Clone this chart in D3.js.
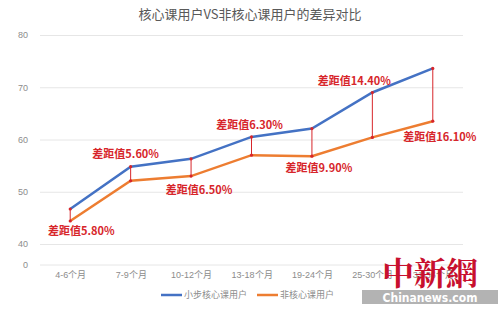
<!DOCTYPE html>
<html lang="zh-CN">
<head>
  <meta charset="UTF-8">
  <title>核心课用户VS非核心课用户的差异对比</title>
  <script src="https://d3js.org/d3.v7.min.js"></script>
  <style>
    html, body { margin: 0; padding: 0; background: #fff; }
    body { font-family: 'Noto Sans CJK SC', 'Noto Sans', sans-serif; }
  </style>
</head>
<body>
  <div id="chart"></div>
  <script>
    var title = "核心课用户VS非核心课用户的差异对比";
    var categories = ["4-6个月", "7-9个月", "10-12个月", "13-18个月", "19-24个月", "25-30个月", "31-36个月"];
    var coreValues = [46.7, 54.8, 56.3, 60.5, 62.1, 69.0, 73.6];
    var nonCoreValues = [44.4, 52.1, 53.0, 57.0, 56.8, 60.4, 63.5];
    var gapLabels = ["差距值5.80%", "差距值5.60%", "差距值6.50%", "差距值6.30%", "差距值9.90%", "差距值14.40%", "差距值16.10%"];
    var yTicks = [0, 40, 50, 60, 70, 80];
    var seriesNames = ["小步核心课用户", "非核心课用户"];

    var width = 500, height = 311;
    var blue = "#4472c4", orange = "#ed7d31", red = "#d7262b";

    var svg = d3.select("#chart").append("svg")
      .attr("width", width)
      .attr("height", height);

    // broken axis: 0 sits just below 40
    var y = d3.scaleLinear().domain([0, 40, 80]).range([264.5, 244, 35]);
    var x = d3.scalePoint().domain(categories).range([40, 463]).padding(0.5);

    svg.append("text")
      .attr("x", 250).attr("y", 19)
      .attr("text-anchor", "middle")
      .attr("font-size", 13)
      .attr("fill", "#595959")
      .text(title);

    var yAxis = svg.append("g")
      .attr("transform", "translate(40,0)")
      .call(d3.axisLeft(y).tickValues(yTicks).tickSize(-423).tickPadding(12));
    yAxis.select(".domain").remove();
    yAxis.selectAll(".tick line").attr("stroke", "#e6e6e6");
    yAxis.selectAll(".tick text").attr("fill", "#8c8c8c").attr("font-size", 9);

    var xAxis = svg.append("g")
      .attr("transform", "translate(0,264.5)")
      .call(d3.axisBottom(x).tickSize(0).tickPadding(7));
    xAxis.select(".domain").remove();
    xAxis.selectAll(".tick text").attr("fill", "#8c8c8c").attr("font-size", 9);

    var line = d3.line()
      .x(function(d, i) { return x(categories[i]); })
      .y(function(d) { return y(d); });

    // gap markers
    var gaps = svg.append("g");
    categories.forEach(function(c, i) {
      var y1 = y(coreValues[i]), y2 = y(nonCoreValues[i]);
      gaps.append("line")
        .attr("x1", x(c)).attr("x2", x(c))
        .attr("y1", y1).attr("y2", y2)
        .attr("stroke", red).attr("stroke-width", 1);
    });

    svg.append("path")
      .datum(nonCoreValues)
      .attr("d", line)
      .attr("fill", "none")
      .attr("stroke", orange)
      .attr("stroke-width", 2.5);

    svg.append("path")
      .datum(coreValues)
      .attr("d", line)
      .attr("fill", "none")
      .attr("stroke", blue)
      .attr("stroke-width", 2.5);

    categories.forEach(function(c, i) {
      [coreValues[i], nonCoreValues[i]].forEach(function(v) {
        gaps.append("circle")
          .attr("cx", x(c)).attr("cy", y(v))
          .attr("r", 1.6).attr("fill", red);
      });
    });
    svg.node().appendChild(gaps.node());

    // label placement: above blue (-1) or below orange (+1), with small nudges
    var labelSide = [1, -1, 1, -1, 1, -1, 1];
    var labelDx = [11, -5, 8, -2, 7, -18, 7];
    var labelDy = [14, -9, 18, -8, 16, -7, 20];
    svg.append("g").selectAll("text")
      .data(gapLabels)
      .join("text")
      .attr("x", function(d, i) { return x(categories[i]) + labelDx[i]; })
      .attr("y", function(d, i) {
        var base = labelSide[i] < 0 ? y(coreValues[i]) : y(nonCoreValues[i]);
        return base + labelDy[i];
      })
      .attr("text-anchor", "middle")
      .attr("font-size", 11)
      .attr("font-weight", "bold")
      .attr("fill", red)
      .text(function(d) { return d; });

    // legend
    var legend = svg.append("g").attr("transform", "translate(0,295)");
    [[blue, 161], [orange, 257]].forEach(function(s, i) {
      legend.append("line")
        .attr("x1", s[1]).attr("x2", s[1] + 21)
        .attr("y1", 0).attr("y2", 0)
        .attr("stroke", s[0]).attr("stroke-width", 2.5);
      legend.append("text")
        .attr("x", s[1] + 23).attr("y", 3)
        .attr("font-size", 9)
        .attr("fill", "#8c8c8c")
        .text(seriesNames[i]);
    });

    // watermark
    var wm = svg.append("g");
    wm.append("rect")
      .attr("x", 362).attr("y", 290).attr("width", 136).attr("height", 14)
      .attr("fill", "#9a9a9a").attr("opacity", 0.75);
    wm.append("text")
      .attr("x", 430).attr("y", 301.5)
      .attr("text-anchor", "middle")
      .attr("font-family", "'Liberation Sans Narrow', 'DejaVu Sans Condensed', sans-serif")
      .attr("font-weight", "bold")
      .attr("font-size", 12)
      .attr("fill", "#fff")
      .text("Chinanews.com");
    wm.append("text")
      .attr("x", 430).attr("y", 285)
      .attr("text-anchor", "middle")
      .attr("font-family", "'Noto Serif CJK SC', 'Noto Sans CJK SC', serif")
      .attr("font-weight", "bold")
      .attr("font-size", 32)
      .attr("fill", "#c8102e")
      .text("中新網");
  </script>
</body>
</html>
